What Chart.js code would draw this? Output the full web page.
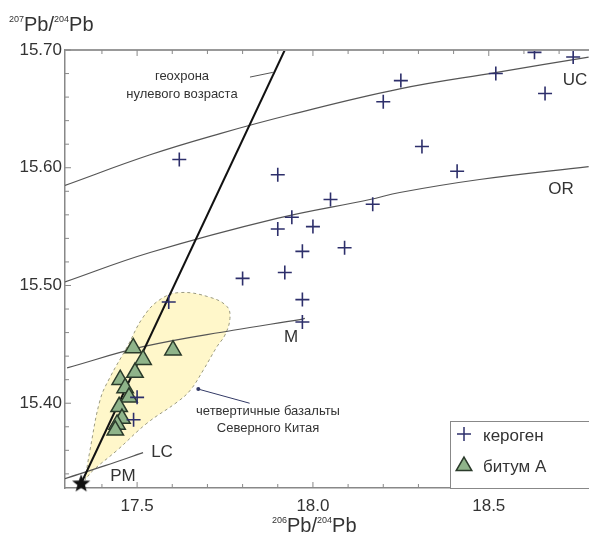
<!DOCTYPE html>
<html>
<head>
<meta charset="utf-8">
<script src="https://cdn.jsdelivr.net/npm/chart.js@4.4.1/dist/chart.umd.min.js"></script>
<style>
    html, body { margin: 0; padding: 0; background: #fff; overflow: hidden; }
    canvas { display: block; }
</style>
</head>
<body>
<canvas id="pbChart" width="589" height="538"></canvas>
<script>
// 206Pb/204Pb (x) and 207Pb/204Pb (y)
const kerogenX = [18.63, 18.74, 18.25, 18.52, 18.20, 18.66, 18.31, 18.41, 17.62, 17.90, 18.05, 18.17,
    17.94, 18.00, 17.90, 18.09, 17.97, 17.92, 17.80, 17.97, 17.97, 17.59, 17.50, 17.49];
const kerogenY = [15.698, 15.694, 15.674, 15.680, 15.656, 15.663, 15.618, 15.597, 15.607, 15.594, 15.573, 15.569,
    15.558, 15.550, 15.548, 15.532, 15.529, 15.511, 15.506, 15.488, 15.469, 15.486, 15.405, 15.386];

const bitumenX = [17.489, 17.602, 17.517, 17.494, 17.452, 17.466, 17.477, 17.449, 17.457, 17.443, 17.438];
const bitumenY = [15.447, 15.445, 15.437, 15.426, 15.420, 15.413, 15.405, 15.397, 15.387, 15.382, 15.377];

const pmPoint = { x: 17.341, y: 15.332 };

// geochron of zero age, through PM
const geochronX = [17.341, 17.920];
const geochronY = [15.332, 15.700];

// growth curves
const ucX = [17.295, 17.537, 17.736, 17.935, 18.247, 18.523, 18.784];
const ucY = [15.585, 15.611, 15.629, 15.645, 15.667, 15.681, 15.694];
const orX = [17.295, 17.537, 17.898, 18.162, 18.247, 18.474, 18.784];
const orY = [15.503, 15.528, 15.557, 15.573, 15.579, 15.590, 15.601];
const mX = [17.301, 17.517, 17.773, 17.963, 17.977];
const mY = [15.430, 15.448, 15.462, 15.471, 15.472];
const lcX = [17.295, 17.409, 17.517];
const lcY = [15.336, 15.347, 15.358];

// field of Quaternary basalts of North China
const fieldX = [17.352, 17.366, 17.395, 17.423, 17.472, 17.517, 17.565, 17.622, 17.707, 17.756, 17.764,
    17.750, 17.727, 17.688, 17.651, 17.614, 17.528, 17.443, 17.375, 17.352];
const fieldY = [15.335, 15.360, 15.403, 15.422, 15.448, 15.473, 15.488, 15.494, 15.490, 15.482, 15.472,
    15.458, 15.448, 15.428, 15.411, 15.401, 15.383, 15.360, 15.343, 15.335];

const xTicks = [17.5, 18.0, 18.5];
const yTicks = [15.40, 15.50, 15.60, 15.70];

const pts = (xs, ys) => xs.map((x, i) => ({ x: x, y: ys[i] }));
const FONT = "'Liberation Sans', Arial, sans-serif";

// filled five-point star for PM
const star = document.createElement("canvas");
star.width = 20; star.height = 20;
(() => {
    const c = star.getContext("2d");
    c.beginPath();
    for (let i = 0; i < 10; i++) {
        const r = i % 2 === 0 ? 9.5 : 4;
        const a = -Math.PI / 2 + i * Math.PI / 5;
        c.lineTo(10 + r * Math.cos(a), 10.5 + r * Math.sin(a));
    }
    c.closePath();
    c.fillStyle = "#111";
    c.fill();
})();

const curve = (xs, ys) => ({
    data: pts(xs, ys), showLine: true, borderColor: "#555", borderWidth: 1.2,
    pointRadius: 0, tension: 0.4, order: 5
});

const decor = {
    id: "decor",
    afterDatasetsDraw(chart) {
        const { ctx, chartArea: a, scales: { x, y } } = chart;
        ctx.save();
        // frame top line
        ctx.strokeStyle = "#999";
        ctx.lineWidth = 2;
        ctx.beginPath(); ctx.moveTo(a.left, a.top); ctx.lineTo(a.right, a.top); ctx.stroke();
        // inward ticks
        ctx.lineWidth = 1;
        ctx.strokeStyle = "#888";
        for (let v = 17.4; v < 18.8; v += 0.1) {
            const px = x.getPixelForValue(v);
            const len = Math.abs(Math.round(v * 10) % 5) === 0 ? 6 : 4;
            ctx.beginPath(); ctx.moveTo(px, a.bottom); ctx.lineTo(px, a.bottom - len); ctx.stroke();
            ctx.beginPath(); ctx.moveTo(px, a.top); ctx.lineTo(px, a.top + len); ctx.stroke();
        }
        for (let v = 15.34; v < 15.70; v += 0.02) {
            const py = y.getPixelForValue(v);
            const len = Math.abs(Math.round(v * 100) % 10) === 0 ? 6 : 4;
            ctx.beginPath(); ctx.moveTo(a.left, py); ctx.lineTo(a.left + len, py); ctx.stroke();
        }

        // curve labels
        ctx.fillStyle = "#333";
        ctx.textAlign = "center";
        ctx.textBaseline = "middle";
        ctx.font = "17px " + FONT;
        ctx.fillText("UC", 575, 80);
        ctx.fillText("OR", 561, 189);
        ctx.fillText("M", 291, 337);
        ctx.fillText("LC", 162, 452);
        ctx.fillText("PM", 123, 476);

        ctx.font = "13px " + FONT;
        ctx.fillText("геохрона", 182, 76);
        ctx.fillText("нулевого возраста", 182, 94);
        ctx.fillText("четвертичные базальты", 268, 411);
        ctx.fillText("Северного Китая", 268, 428);

        // leader to the field
        ctx.strokeStyle = "#333a66";
        ctx.fillStyle = "#333a66";
        ctx.lineWidth = 1;
        const x0 = x.getPixelForValue(17.82), y0 = y.getPixelForValue(15.40);
        const x1 = x.getPixelForValue(17.674), y1 = y.getPixelForValue(15.412);
        ctx.beginPath(); ctx.moveTo(x0, y0); ctx.lineTo(x1, y1); ctx.stroke();
        ctx.beginPath(); ctx.arc(x1, y1, 2, 0, Math.PI * 2); ctx.fill();

        // axis titles
        ctx.fillStyle = "#333";
        ctx.textAlign = "left";
        ctx.textBaseline = "alphabetic";
        const title = (tx, ty, a1, a2) => {
            let cx = tx;
            ctx.font = "9px " + FONT; ctx.fillText(a1, cx, ty - 9); cx += ctx.measureText(a1).width;
            ctx.font = "20px " + FONT; ctx.fillText("Pb/", cx, ty); cx += ctx.measureText("Pb/").width;
            ctx.font = "9px " + FONT; ctx.fillText(a2, cx, ty - 9); cx += ctx.measureText(a2).width;
            ctx.font = "20px " + FONT; ctx.fillText("Pb", cx, ty);
        };
        title(9, 31, "207", "204");
        title(272, 532, "206", "204");

        // legend
        const lx = 450, ly = 421, lw = 140, lh = a.bottom - 421;
        ctx.fillStyle = "#fff";
        ctx.fillRect(lx, ly, lw, lh);
        ctx.strokeStyle = "#888";
        ctx.lineWidth = 1;
        ctx.strokeRect(lx + 0.5, ly + 0.5, lw, lh);
        ctx.strokeStyle = "#2d2f6b";
        ctx.lineWidth = 1.5;
        Chart.helpers.drawPoint(ctx, { pointStyle: "cross", radius: 7, borderWidth: 1.5, rotation: 0 }, 464, 434);
        ctx.fillStyle = "#8fb48a";
        ctx.strokeStyle = "#2b3b2b";
        Chart.helpers.drawPoint(ctx, { pointStyle: "triangle", radius: 9, borderWidth: 1.5, rotation: 0 }, 464, 466);
        ctx.fillStyle = "#333";
        ctx.font = "17px " + FONT;
        ctx.textBaseline = "middle";
        ctx.fillText("кероген", 483, 436);
        ctx.fillText("битум А", 483, 467);
        ctx.restore();
    }
};

new Chart(document.getElementById("pbChart"), {
    type: "scatter",
    data: {
        datasets: [
            {
                label: "кероген",
                data: pts(kerogenX, kerogenY),
                pointStyle: "cross", pointRadius: 7, borderColor: "#2d2f6b", borderWidth: 1.6, order: 1
            },
            {
                label: "битум А",
                data: pts(bitumenX, bitumenY),
                pointStyle: "triangle", pointRadius: 9.5, backgroundColor: "#8fb48a",
                borderColor: "#2b3b2b", borderWidth: 1.5, order: 2
            },
            {
                label: "PM",
                data: [pmPoint],
                pointStyle: star, clip: false, order: 0
            },
            {
                label: "геохрона",
                data: pts(geochronX, geochronY),
                showLine: true, borderColor: "#111", borderWidth: 2, pointRadius: 0, order: 4
            },
            {
                label: "leader",
                data: pts([17.821, 17.886], [15.677, 15.681]),
                showLine: true, borderColor: "#555", borderWidth: 1, pointRadius: 0, order: 4
            },
            curve(ucX, ucY),
            curve(orX, orY),
            curve(mX, mY),
            curve(lcX, lcY),
            {
                label: "field",
                data: pts(fieldX, fieldY),
                showLine: true, fill: "shape", backgroundColor: "rgba(255,246,196,0.9)",
                borderColor: "#9a9a80", borderWidth: 1, borderDash: [3, 3],
                pointRadius: 0, tension: 0.4, order: 10
            }
        ]
    },
    options: {
        responsive: false,
        animation: false,
        layout: { autoPadding: false, padding: { top: 50, right: 0, left: 0, bottom: 0 } },
        plugins: {
            legend: { display: false },
            tooltip: { enabled: false }
        },
        scales: {
            x: {
                type: "linear", min: 17.295, max: 18.785,
                afterBuildTicks: s => { s.ticks = xTicks.map(v => ({ value: v })); },
                afterFit: s => { s.height = 50; s.paddingLeft = 0; s.paddingRight = 0; },
                grid: { display: false, drawTicks: false },
                border: { display: true, color: "#888", width: 1.5 },
                ticks: { color: "#333", font: { family: FONT, size: 17 }, padding: 8, callback: v => v.toFixed(1) }
            },
            y: {
                type: "linear", min: 15.328, max: 15.70,
                afterBuildTicks: s => { s.ticks = yTicks.map(v => ({ value: v })); },
                afterFit: s => { s.width = 65; s.paddingTop = 0; s.paddingBottom = 0; },
                grid: { display: false, drawTicks: false },
                border: { display: true, color: "#888", width: 1.5 },
                ticks: { color: "#333", font: { family: FONT, size: 17 }, padding: 3, callback: v => v.toFixed(2) }
            }
        }
    },
    plugins: [decor]
});
</script>
</body>
</html>
